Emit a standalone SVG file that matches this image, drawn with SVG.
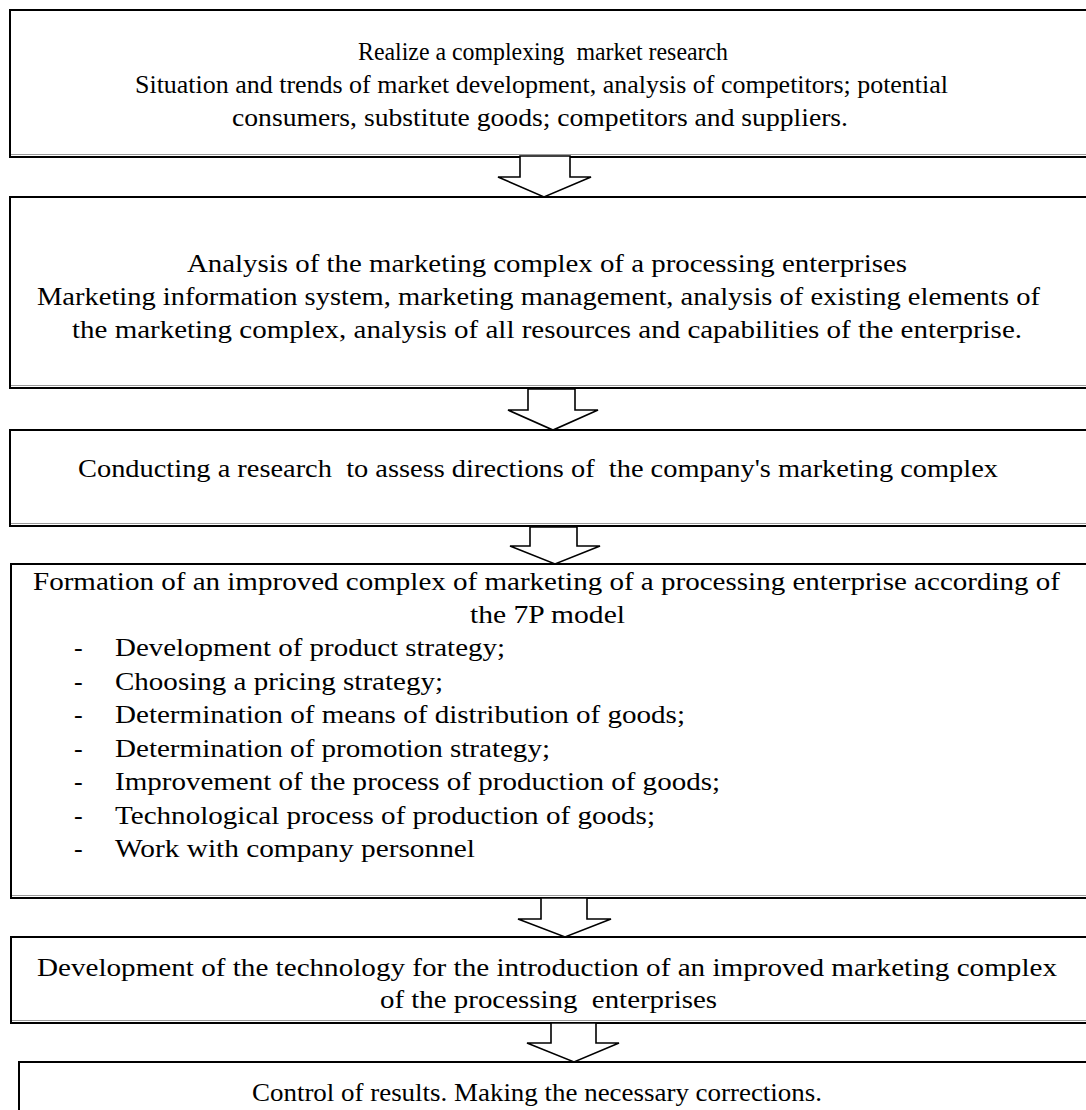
<svg xmlns="http://www.w3.org/2000/svg" width="1086" height="1110" viewBox="0 0 1086 1110">
  <defs>
    <style>
      .box { fill: #ffffff; stroke: #000000; stroke-width: 2; }
      .shade { stroke: #9a9a9a; stroke-width: 1.2; fill: none; }
      .arrow { fill: #ffffff; stroke: #000000; stroke-width: 1.6; stroke-linejoin: miter; }
      .t { font-family: "Liberation Serif", "Times New Roman", serif; font-size: 26px; fill: #000000; }
    </style>
  </defs>
  <rect width="1086" height="1110" fill="#ffffff"/>

  <!-- step boxes -->
  <g id="step1">
    <rect class="box" x="10" y="10" width="1090" height="147"/>
    <line class="shade" x1="11" y1="154.5" x2="1086" y2="154.5"/>
    <text class="t" x="358" y="60" textLength="370" lengthAdjust="spacingAndGlyphs" xml:space="preserve">Realize a complexing  market research</text>
    <text class="t" x="135" y="93" textLength="813" lengthAdjust="spacingAndGlyphs">Situation and trends of market development, analysis of competitors; potential</text>
    <text class="t" x="232" y="126" textLength="616" lengthAdjust="spacingAndGlyphs">consumers, substitute goods; competitors and suppliers.</text>
  </g>

  <g id="step2">
    <rect class="box" x="10" y="197" width="1090" height="191"/>
    <line class="shade" x1="11" y1="385.5" x2="1086" y2="385.5"/>
    <text class="t" x="187" y="272" textLength="720" lengthAdjust="spacingAndGlyphs">Analysis of the marketing complex of a processing enterprises</text>
    <text class="t" x="37" y="305" textLength="1003" lengthAdjust="spacingAndGlyphs">Marketing information system, marketing management, analysis of existing elements of</text>
    <text class="t" x="72" y="338" textLength="950" lengthAdjust="spacingAndGlyphs">the marketing complex, analysis of all resources and capabilities of the enterprise.</text>
  </g>

  <g id="step3">
    <rect class="box" x="10" y="430" width="1090" height="96"/>
    <line class="shade" x1="11" y1="523.5" x2="1086" y2="523.5"/>
    <text class="t" x="78" y="477" textLength="920" lengthAdjust="spacingAndGlyphs" xml:space="preserve">Conducting a research  to assess directions of  the company's marketing complex</text>
  </g>

  <g id="step4">
    <rect class="box" x="11" y="564" width="1090" height="334"/>
    <line class="shade" x1="12" y1="895.5" x2="1086" y2="895.5"/>
    <text class="t" x="33" y="590" textLength="1027" lengthAdjust="spacingAndGlyphs">Formation of an improved complex of marketing of a processing enterprise according of</text>
    <text class="t" x="470" y="623" textLength="155" lengthAdjust="spacingAndGlyphs">the 7P model</text>
    <g class="t">
      <text x="74" y="656">-</text><text x="115" y="656" textLength="390" lengthAdjust="spacingAndGlyphs">Development of product strategy;</text>
      <text x="74" y="689.5">-</text><text x="115" y="689.5" textLength="328" lengthAdjust="spacingAndGlyphs">Choosing a pricing strategy;</text>
      <text x="74" y="723">-</text><text x="115" y="723" textLength="570" lengthAdjust="spacingAndGlyphs">Determination of means of distribution of goods;</text>
      <text x="74" y="756.5">-</text><text x="115" y="756.5" textLength="435" lengthAdjust="spacingAndGlyphs">Determination of promotion strategy;</text>
      <text x="74" y="790">-</text><text x="115" y="790" textLength="605" lengthAdjust="spacingAndGlyphs">Improvement of the process of production of goods;</text>
      <text x="74" y="823.5">-</text><text x="115" y="823.5" textLength="540" lengthAdjust="spacingAndGlyphs">Technological process of production of goods;</text>
      <text x="74" y="857">-</text><text x="115" y="857" textLength="360" lengthAdjust="spacingAndGlyphs">Work with company personnel</text>
    </g>
  </g>

  <g id="step5">
    <rect class="box" x="11" y="937" width="1090" height="86"/>
    <line class="shade" x1="12" y1="1020.5" x2="1086" y2="1020.5"/>
    <text class="t" x="37" y="976" textLength="1020" lengthAdjust="spacingAndGlyphs">Development of the technology for the introduction of an improved marketing complex</text>
    <text class="t" x="380" y="1008" textLength="337" lengthAdjust="spacingAndGlyphs" xml:space="preserve">of the processing  enterprises</text>
  </g>

  <g id="step6">
    <rect class="box" x="19" y="1062" width="1090" height="80"/>
    <text class="t" x="252" y="1101" textLength="570" lengthAdjust="spacingAndGlyphs">Control of results. Making the necessary corrections.</text>
  </g>

  <!-- block arrows between steps -->
  <g id="connectors">
    <polygon class="arrow" points="520,156 570,156 570,177 591,177 544,197 498,177 520,177"/>
    <polygon class="arrow" points="528,389 575,389 575,410 598,410 553,430 508,410 528,410"/>
    <polygon class="arrow" points="530,527 577,527 577,546 600,546 555,564 510,546 530,546"/>
    <polygon class="arrow" points="541,898 587,898 587,919 611,919 565,937 518,919 541,919"/>
    <polygon class="arrow" points="551,1023 596,1023 596,1043 619,1043 574,1062 527,1043 551,1043"/>
  </g>
</svg>
